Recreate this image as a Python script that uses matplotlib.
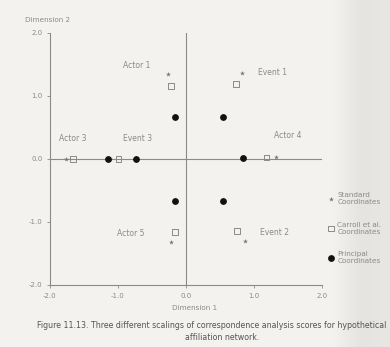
import matplotlib.pyplot as plt
import numpy as np

# coordenadas
nombres = ['Actor 1', 'Event 1', 'Actor 3', 'Event 3', 'Actor 4', 'Actor 5', 'Event 2']
std_x = [-0.26, 0.82, -1.76, -1.12, 1.32, -0.22, 0.87]
std_y = [1.35, 1.37, 0.0, 0.0, 0.03, -1.32, -1.30]
carroll_x = [-0.22, 0.74, -1.66, -0.99, 1.19, -0.16, 0.75]
carroll_y = [1.16, 1.19, 0.0, 0.0, 0.02, -1.16, -1.14]
princ_x = [-0.16, 0.54, -1.15, -0.74, 0.84, -0.16, 0.54]
princ_y = [0.67, 0.67, 0.0, 0.0, 0.01, -0.67, -0.67]
lab_x = [-0.72, 1.28, -1.66, -0.71, 1.5, -0.81, 1.31]
lab_y = [1.48, 1.38, 0.32, 0.32, 0.37, -1.19, -1.17]
ticks = [-2.0, -1.0, 0.0, 1.0, 2.0]

gris = '#8a8a8a'
fondo = '#f3f2ef'
fig = plt.figure(figsize=(3.9, 3.47), dpi=100, facecolor=fondo)

# sombra del lomo del libro a la derecha
bg = fig.add_axes([0.85, 0, 0.15, 1], zorder=-5)
grad = np.linspace(0, 1, 60).reshape(1, -1)
bg.imshow(grad, aspect='auto', cmap=plt.matplotlib.colors.LinearSegmentedColormap.from_list(
    'lomo', [fondo, '#e6e4e1', '#e9e7e4']), extent=[0, 1, 0, 1])
bg.axis('off')

ax = fig.add_axes([0.128, 0.179, 0.697, 0.726])
ax.set_facecolor('none')

ax.axhline(0, color=gris, lw=0.8, zorder=1)
ax.axvline(0, color=gris, lw=0.8, zorder=1)

ax.scatter(std_x, std_y, marker='*', s=14, color='#777777', lw=0, zorder=3,
           label='Standard\nCoordinates')
ax.scatter(carroll_x, carroll_y, marker='s', s=16, facecolor='none', edgecolor='#8a8a8a',
           lw=0.7, zorder=3, label='Carroll et al.\nCoordinates')
ax.scatter(princ_x, princ_y, marker='o', s=15, color='#111111', zorder=4,
           label='Principal\nCoordinates')

for n, x, y in zip(nombres, lab_x, lab_y):
    ax.text(x, y, n, fontsize=5.5, color=gris, ha='center', va='center')

ax.set_xlim(-2, 2)
ax.set_ylim(-2, 2)
ax.set_xticks(ticks)
ax.set_yticks(ticks)
ax.set_xticklabels(['%.1f' % t for t in ticks])
ax.set_yticklabels(['%.1f' % t for t in ticks])
ax.tick_params(labelsize=5, colors=gris, length=2, width=0.6)
for s in ['top', 'right']:
    ax.spines[s].set_visible(False)
for s in ['left', 'bottom']:
    ax.spines[s].set_color(gris)
    ax.spines[s].set_linewidth(0.8)

fig.text(48 / 390, 1 - 20 / 347, 'Dimension 2', fontsize=5.2, color=gris, ha='center', va='center')
fig.text(195 / 390, 1 - 308 / 347, 'Dimension 1', fontsize=5.2, color=gris, ha='center', va='center')

ax.legend(loc='upper left', bbox_to_anchor=(328 / 390, 1 - 192 / 347),
          bbox_transform=fig.transFigure, frameon=False, fontsize=5.2,
          labelcolor=gris, labelspacing=2.3, handletextpad=0.5, handlelength=0.8,
          borderaxespad=0, borderpad=0)

fig.text(212 / 390, 1 - 325 / 347,
         'Figure 11.13. Three different scalings of correspondence analysis scores for hypothetical',
         fontsize=5.7, color='#555555', ha='center', va='center')
fig.text(222 / 390, 1 - 337 / 347, 'affiliation network.',
         fontsize=5.7, color='#555555', ha='center', va='center')

plt.savefig('out.png', dpi=100, facecolor=fig.get_facecolor())
